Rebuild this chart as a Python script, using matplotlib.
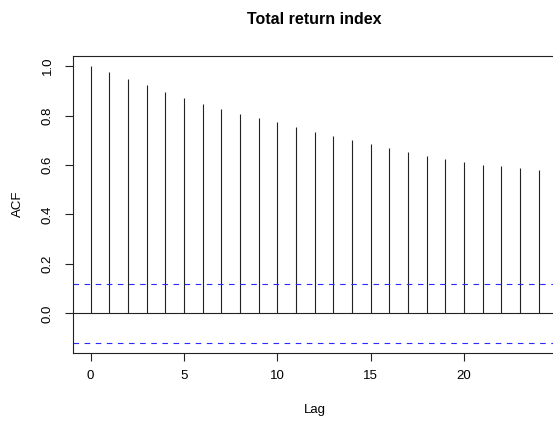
import numpy as np
import matplotlib
matplotlib.use("Agg")
from matplotlib import pyplot as plt

# ACF values (lags 0..24)
lags = np.arange(0, 25)
acf = [1.000, 0.976, 0.948, 0.923, 0.895, 0.870, 0.846, 0.826, 0.806, 0.790,
       0.773, 0.753, 0.734, 0.717, 0.700, 0.684, 0.668, 0.652, 0.636, 0.623,
       0.611, 0.599, 0.595, 0.587, 0.579]
ci = 0.118
xticks = [0, 5, 10, 15, 20]
yticks = [0.0, 0.2, 0.4, 0.6, 0.8, 1.0]

plt.rcParams['font.family'] = ['Liberation Sans', 'DejaVu Sans']

W, H = 553, 426
fig = plt.figure(figsize=(W / 100, H / 100), dpi=100)
left, right, top, bottom = 72.7, 556.6, 55.7, 352.7
ax = fig.add_axes([left / W, 1 - bottom / H, (right - left) / W, (bottom - top) / H])

ax.vlines(lags, 0, acf, color='#222222', lw=0.8)
ax.axhline(0, color='#222222', lw=0.8)
ax.axhline(ci, color='#2a2aff', lw=0.8, dashes=(5, 5))
ax.axhline(-ci, color='#2a2aff', lw=0.8, dashes=(5, 5))

ax.set_xlim(-0.96, 24.96)
ax.set_ylim(-0.159, 1.042)
ax.set_xticks(xticks)
ax.set_xticklabels([str(t) for t in xticks])
ax.set_yticks(yticks)
ax.set_yticklabels(['%.1f' % t for t in yticks], rotation=90, va='center')

for s in ax.spines.values():
    s.set_color('#222222')
    s.set_linewidth(0.8)
ax.tick_params(direction='out', length=6, width=0.8, color='#222222',
               labelsize=9.5, pad=6.5)
ax.tick_params(axis='y', pad=7.5)

fig.text(314.6 / W, 1 - 19 / H, 'Total return index', ha='center', va='center',
         fontsize=11.5, fontweight='bold')
fig.text(314.6 / W, 1 - 410 / H, 'Lag', ha='center', va='center', fontsize=9.5)
fig.text(18 / W, 1 - 204 / H, 'ACF', ha='center', va='center', fontsize=9.5,
         rotation=90)

fig.savefig('out.png', dpi=100)
